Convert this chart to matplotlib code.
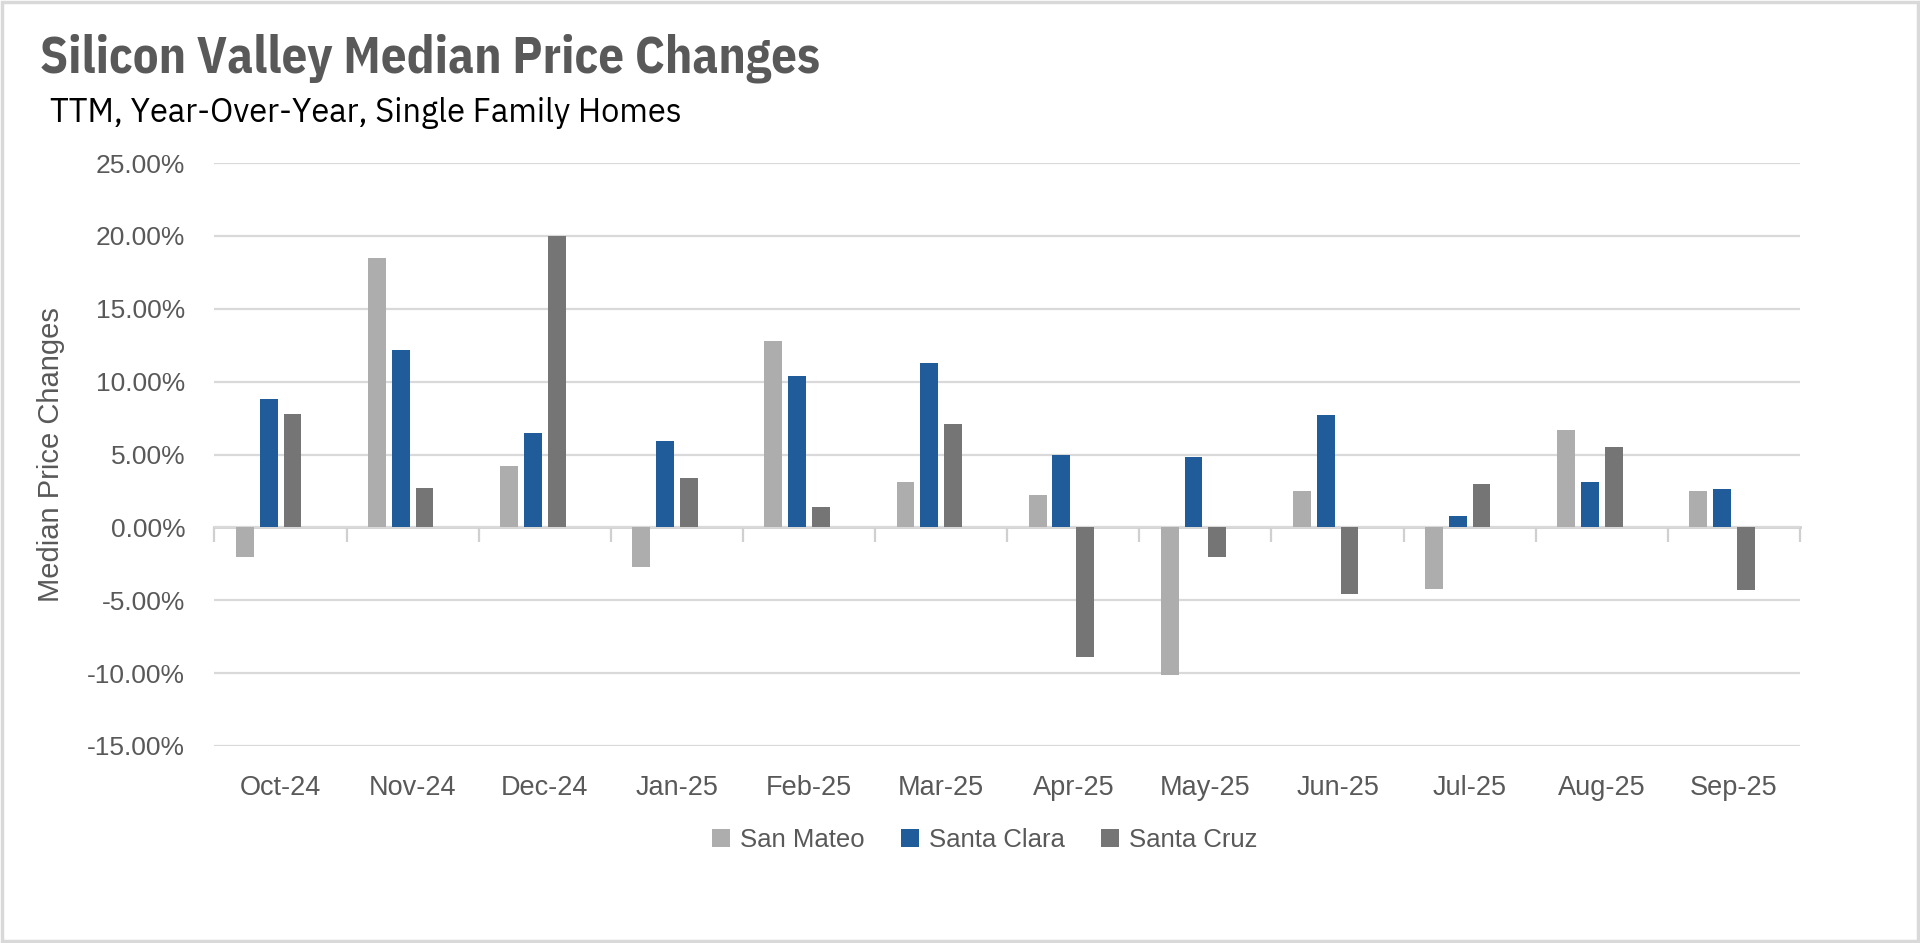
"""
Silicon Valley median price changes - grouped bar chart (TTM, YoY, SFH)
"""

import numpy as np
import matplotlib
matplotlib.use('Agg')
import matplotlib.pyplot as plt
from matplotlib.patches import Rectangle

# Data
months = ['Oct-24', 'Nov-24', 'Dec-24', 'Jan-25', 'Feb-25', 'Mar-25',
          'Apr-25', 'May-25', 'Jun-25', 'Jul-25', 'Aug-25', 'Sep-25']
san_mateo = [-2.0, 18.5, 4.2, -2.7, 12.8, 3.1, 2.2, -10.1, 2.5, -4.2, 6.7, 2.5]
santa_clara = [8.8, 12.2, 6.5, 5.9, 10.4, 11.3, 5.0, 4.8, 7.7, 0.8, 3.1, 2.6]
santa_cruz = [7.8, 2.7, 20.0, 3.4, 1.4, 7.1, -8.9, -2.0, -4.6, 3.0, 5.5, -4.3]
series_names = ['San Mateo', 'Santa Clara', 'Santa Cruz']
y_ticks = [-15, -10, -5, 0, 5, 10, 15, 20, 25]

# Style
TITLE_COLOR = '#595959'
TEXT_COLOR = '#595959'
GRID_COLOR = '#d9d9d9'
COLORS = ['#adadad', '#1f5c99', '#757575']
AXIS_FONT = ['Liberation Sans', 'DejaVu Sans']
TITLE_FONT = ['IBM Plex Sans Condensed', 'DejaVu Sans']
SUB_FONT = ['IBM Plex Sans', 'DejaVu Sans']

plt.rcParams['font.family'] = AXIS_FONT

fig = plt.figure(figsize=(19.2, 9.43), dpi=100)
fig.patch.set_facecolor('white')

# outer frame
fig.add_artist(Rectangle((0.001, 0.002), 0.998, 0.996, transform=fig.transFigure,
                         fill=False, edgecolor='#d9d9d9', linewidth=2.5))

ax = fig.add_axes([0.1117, 0.209, 0.8258, 0.618])

x = np.arange(len(months))
step = 0.18
width = 0.135
# Excel-style group with an empty 4th slot
offsets = [-1.5 * step, -0.5 * step, 0.5 * step]
for vals, off, col, name in zip([san_mateo, santa_clara, santa_cruz], offsets, COLORS, series_names):
    ax.bar(x + off, vals, width=width, color=col, label=name, zorder=3)

ax.set_xlim(-0.5, len(months) - 0.5)
ax.set_ylim(-15, 25)
ax.set_yticks(y_ticks)
ax.set_yticklabels([f'{v:.2f}%' for v in y_ticks])
ax.yaxis.grid(True, color=GRID_COLOR, linewidth=1.6, zorder=0)
ax.tick_params(axis='y', length=0, pad=21, labelsize=19, labelcolor=TEXT_COLOR)
for s in ax.spines.values():
    s.set_visible(False)

ax.set_xticks(x)
ax.set_xticklabels(months)
ax.tick_params(axis='x', length=0, pad=21, labelsize=19.5, labelcolor=TEXT_COLOR)

# zero line with category boundary ticks
zero_frac = (0 - (-15)) / (25 - (-15))
sec = ax.secondary_xaxis(zero_frac)
sec.set_xticks(np.arange(len(months) + 1) - 0.5)
sec.set_xticklabels([])
sec.tick_params(axis='x', direction='out', length=11, width=1.6, color='#d0d0d0')
sec.spines['bottom'].set_color('#d0d0d0')
sec.spines['bottom'].set_linewidth(2)

ax.set_ylabel('Median Price Changes', fontsize=21, color=TEXT_COLOR)
ax.yaxis.set_label_coords(-0.094, 0.5)

fig.text(0.021, 0.938, 'Silicon Valley Median Price Changes', fontsize=36.5,
         fontweight='bold', color=TITLE_COLOR, va='center', ha='left', family=TITLE_FONT)
fig.text(0.026, 0.880, 'TTM, Year-Over-Year, Single Family Homes', fontsize=23.5,
         color='black', va='center', ha='left', family=SUB_FONT)

ax.legend(loc='center', bbox_to_anchor=(0.513, 0.109), bbox_transform=fig.transFigure,
          ncol=3, frameon=False, fontsize=18.5, handlelength=0.7, handleheight=0.7,
          handletextpad=0.4, columnspacing=1.4, labelcolor=TEXT_COLOR)

plt.savefig('out.png', dpi=100, facecolor='white')
plt.close()
